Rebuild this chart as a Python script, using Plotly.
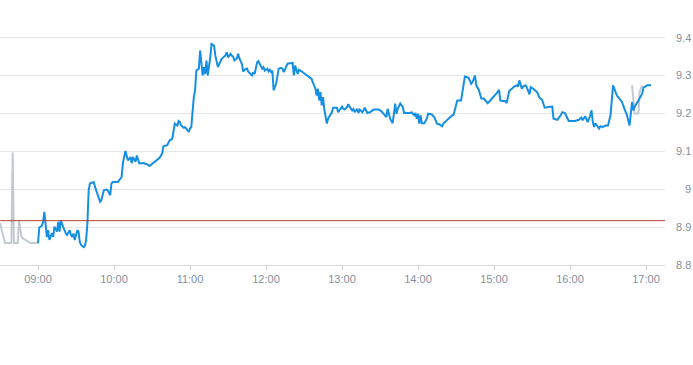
import plotly.graph_objects as go

DAY = "2024-01-02"

# Pre-market (grey)
pre_times = ["08:30", "08:32", "08:34", "08:39", "08:40", "08:41", "08:44", "08:45",
             "08:47", "08:50", "08:54", "08:59"]
pre_prices = [8.910, 8.884, 8.858, 8.858, 9.097, 8.858, 8.858, 8.918,
              8.874, 8.866, 8.858, 8.858]

# Regular session (blue)
main_times = [
    "09:00", "09:01", "09:03", "09:04", "09:05", "09:06", "09:07", "09:08", "09:09", "09:11",
    "09:12", "09:13", "09:15", "09:16", "09:17", "09:18", "09:19", "09:20", "09:22", "09:23",
    "09:25", "09:26", "09:27", "09:28", "09:29", "09:31", "09:32", "09:33", "09:34", "09:36",
    "09:37", "09:38", "09:39", "09:40", "09:41", "09:42", "09:44", "09:45", "09:46", "09:48",
    "09:49", "09:50", "09:52", "09:54", "09:55", "09:57", "09:58", "09:59", "10:03", "10:06",
    "10:07", "10:09", "10:10", "10:11", "10:13", "10:14", "10:15", "10:17", "10:18", "10:19",
    "10:20", "10:23", "10:26", "10:28", "10:31", "10:34", "10:36", "10:38", "10:39", "10:42",
    "10:44", "10:46", "10:47", "10:48", "10:50", "10:51", "10:52", "10:53", "10:55", "10:56",
    "10:57", "10:59", "11:00", "11:01", "11:03", "11:04", "11:05", "11:07", "11:08", "11:09",
    "11:10", "11:11", "11:12", "11:13", "11:14", "11:16", "11:17", "11:19", "11:20", "11:22",
    "11:23", "11:25", "11:28", "11:29", "11:30", "11:32", "11:33", "11:34", "11:35", "11:37",
    "11:38", "11:39", "11:41", "11:42", "11:43", "11:45", "11:46", "11:47", "11:49", "11:50",
    "11:51", "11:53", "11:54", "11:55", "11:57", "11:58", "11:59", "12:01", "12:02", "12:03",
    "12:04", "12:05", "12:06", "12:08", "12:09", "12:10", "12:12", "12:13", "12:14", "12:16",
    "12:17", "12:19", "12:21", "12:22", "12:23", "12:25", "12:26", "12:28", "12:31", "12:33",
    "12:36", "12:37", "12:39", "12:40", "12:41", "12:42", "12:43", "12:44", "12:45", "12:46",
    "12:47", "12:48", "12:49", "12:50", "12:52", "12:53", "12:56", "12:57", "12:58", "13:00",
    "13:01", "13:02", "13:04", "13:05", "13:06", "13:08", "13:09", "13:10", "13:12", "13:13",
    "13:14", "13:16", "13:17", "13:18", "13:20", "13:22", "13:25", "13:29", "13:31", "13:33",
    "13:35", "13:36", "13:37", "13:38", "13:40", "13:42", "13:43", "13:44", "13:46", "13:48",
    "13:49", "13:54", "13:55", "13:57", "13:58", "13:59", "14:00", "14:01", "14:02", "14:03",
    "14:05", "14:07", "14:08", "14:11", "14:13", "14:15", "14:17", "14:19", "14:20", "14:23",
    "14:25", "14:27", "14:28", "14:30", "14:31", "14:34", "14:35", "14:37", "14:38", "14:40",
    "14:42", "14:43", "14:45", "14:46", "14:48", "14:50", "14:52", "14:54", "14:55", "14:57",
    "14:59", "15:02", "15:04", "15:05", "15:09", "15:10", "15:12", "15:14", "15:16", "15:18",
    "15:19", "15:20", "15:22", "15:23", "15:25", "15:26", "15:28", "15:29", "15:31", "15:34",
    "15:36", "15:38", "15:40", "15:43", "15:46", "15:47", "15:50", "15:52", "15:54", "15:56",
    "15:57", "15:59", "16:04", "16:07", "16:09", "16:10", "16:12", "16:14", "16:16", "16:17",
    "16:18", "16:19", "16:20", "16:22", "16:23", "16:24", "16:26", "16:28", "16:30", "16:32",
    "16:33", "16:34", "16:35", "16:37", "16:39", "16:41", "16:43", "16:45", "16:47", "16:48",
    "16:49", "16:50", "16:51", "16:54", "16:57", "16:58", "17:01", "17:04",
]
main_prices = [
    8.857, 8.899, 8.903, 8.914, 8.940, 8.901, 8.874, 8.892, 8.866, 8.884,
    8.874, 8.901, 8.888, 8.914, 8.888, 8.918, 8.905, 8.899, 8.883, 8.879,
    8.892, 8.879, 8.874, 8.883, 8.866, 8.892, 8.888, 8.861, 8.853, 8.847,
    8.850, 8.866, 8.910, 8.997, 9.015, 9.017, 9.019, 9.006, 8.997, 8.980,
    8.967, 8.970, 8.997, 8.999, 8.997, 8.984, 9.015, 9.019, 9.019, 9.032,
    9.068, 9.101, 9.089, 9.076, 9.085, 9.068, 9.085, 9.072, 9.089, 9.081,
    9.068, 9.069, 9.066, 9.061, 9.069, 9.076, 9.083, 9.094, 9.113, 9.116,
    9.129, 9.133, 9.151, 9.173, 9.168, 9.180, 9.177, 9.168, 9.162, 9.164,
    9.160, 9.151, 9.160, 9.164, 9.243, 9.261, 9.313, 9.318, 9.366, 9.339,
    9.300, 9.322, 9.304, 9.339, 9.300, 9.348, 9.383, 9.379, 9.353, 9.322,
    9.331, 9.344, 9.353, 9.361, 9.348, 9.357, 9.352, 9.350, 9.340, 9.345,
    9.357, 9.345, 9.330, 9.310, 9.315, 9.318, 9.310, 9.307, 9.300, 9.309,
    9.304, 9.335, 9.338, 9.331, 9.318, 9.322, 9.313, 9.318, 9.311, 9.315,
    9.309, 9.313, 9.261, 9.278, 9.304, 9.318, 9.320, 9.318, 9.309, 9.326,
    9.331, 9.332, 9.333, 9.300, 9.326, 9.304, 9.315, 9.311, 9.304, 9.300,
    9.291, 9.282, 9.265, 9.247, 9.265, 9.234, 9.256, 9.221, 9.243, 9.212,
    9.190, 9.173, 9.186, 9.192, 9.203, 9.215, 9.215, 9.203, 9.208, 9.218,
    9.212, 9.210, 9.217, 9.224, 9.217, 9.208, 9.212, 9.203, 9.212, 9.201,
    9.210, 9.203, 9.208, 9.215, 9.201, 9.203, 9.210, 9.210, 9.206, 9.199,
    9.190, 9.212, 9.195, 9.186, 9.174, 9.226, 9.199, 9.212, 9.226, 9.217,
    9.201, 9.201, 9.203, 9.195, 9.201, 9.186, 9.199, 9.173, 9.195, 9.174,
    9.174, 9.186, 9.199, 9.197, 9.189, 9.173, 9.171, 9.166, 9.173, 9.182,
    9.189, 9.195, 9.195, 9.217, 9.234, 9.234, 9.252, 9.297, 9.296, 9.294,
    9.278, 9.282, 9.300, 9.274, 9.262, 9.239, 9.239, 9.230, 9.227, 9.234,
    9.241, 9.253, 9.262, 9.234, 9.232, 9.227, 9.259, 9.265, 9.271, 9.274,
    9.271, 9.287, 9.265, 9.271, 9.274, 9.268, 9.250, 9.269, 9.265, 9.256,
    9.241, 9.236, 9.215, 9.217, 9.218, 9.186, 9.183, 9.192, 9.203, 9.201,
    9.195, 9.180, 9.180, 9.183, 9.189, 9.182, 9.192, 9.177, 9.195, 9.208,
    9.177, 9.164, 9.174, 9.166, 9.160, 9.166, 9.164, 9.168, 9.168, 9.195,
    9.226, 9.274, 9.265, 9.247, 9.239, 9.230, 9.212, 9.195, 9.168, 9.199,
    9.230, 9.208, 9.217, 9.234, 9.252, 9.268, 9.274, 9.274,
]

# After-hours (grey)
post_times = ["16:49", "16:51", "16:54", "16:55", "16:57"]
post_prices = [9.274, 9.200, 9.200, 9.258, 9.274]

ref_price = 8.917  # previous close

y_ticks = [8.8, 8.9, 9.0, 9.1, 9.2, 9.3, 9.4]
y_tick_labels = ["8.8", "8.9", "9", "9.1", "9.2", "9.3", "9.4"]
x_tick_times = ["09:00", "10:00", "11:00", "12:00", "13:00", "14:00", "15:00", "16:00", "17:00"]


def ts(t):
    return f"{DAY} {t}:00"


BLUE = "#168fe2"
GREY = "#c3c9d0"
LABEL = "#85909b"

fig = go.Figure()
fig.add_trace(go.Scatter(x=[ts(t) for t in pre_times], y=pre_prices, mode="lines",
                         line=dict(color=GREY, width=2), hoverinfo="skip"))
fig.add_trace(go.Scatter(x=[ts(t) for t in post_times], y=post_prices, mode="lines",
                         line=dict(color=GREY, width=2), hoverinfo="skip"))
fig.add_trace(go.Scatter(x=[ts(t) for t in main_times], y=main_prices, mode="lines",
                         line=dict(color=BLUE, width=2)))

fig.add_shape(type="line", xref="paper", x0=0, x1=1, yref="y", y0=ref_price, y1=ref_price,
              line=dict(color="#b5443a", width=1))

for v, lab in zip(y_ticks, y_tick_labels):
    fig.add_annotation(x=1, xref="paper", y=v, yref="y", text=lab, showarrow=False,
                       xanchor="right", yanchor="middle", xshift=28,
                       font=dict(size=11, color=LABEL, family="Liberation Sans, Arial, sans-serif"))

fig.update_layout(
    width=693, height=365,
    margin=dict(l=0, r=28, t=30, b=100),
    paper_bgcolor="white", plot_bgcolor="white",
    showlegend=False,
    font=dict(family="Liberation Sans, Arial, sans-serif", size=11, color=LABEL),
)
fig.update_xaxes(
    type="date",
    range=[ts("08:30"), ts("17:15")],
    tickvals=[ts(t) for t in x_tick_times],
    ticktext=x_tick_times,
    showgrid=False, zeroline=False,
    showline=True, linecolor="#d5d9de", linewidth=1,
    ticks="outside", ticklen=4, tickcolor="#d5d9de",
    tickfont=dict(size=11, color=LABEL),
)
fig.update_yaxes(
    range=[8.8, 9.42],
    tickvals=y_ticks,
    showticklabels=False,
    showgrid=True, gridcolor="#e4e6e9", gridwidth=1,
    zeroline=False, side="right",
)

fig.write_html(
    "out.html",
    config={"displayModeBar": False},
    post_script="document.body.style.margin='0';document.body.style.padding='0';",
)
